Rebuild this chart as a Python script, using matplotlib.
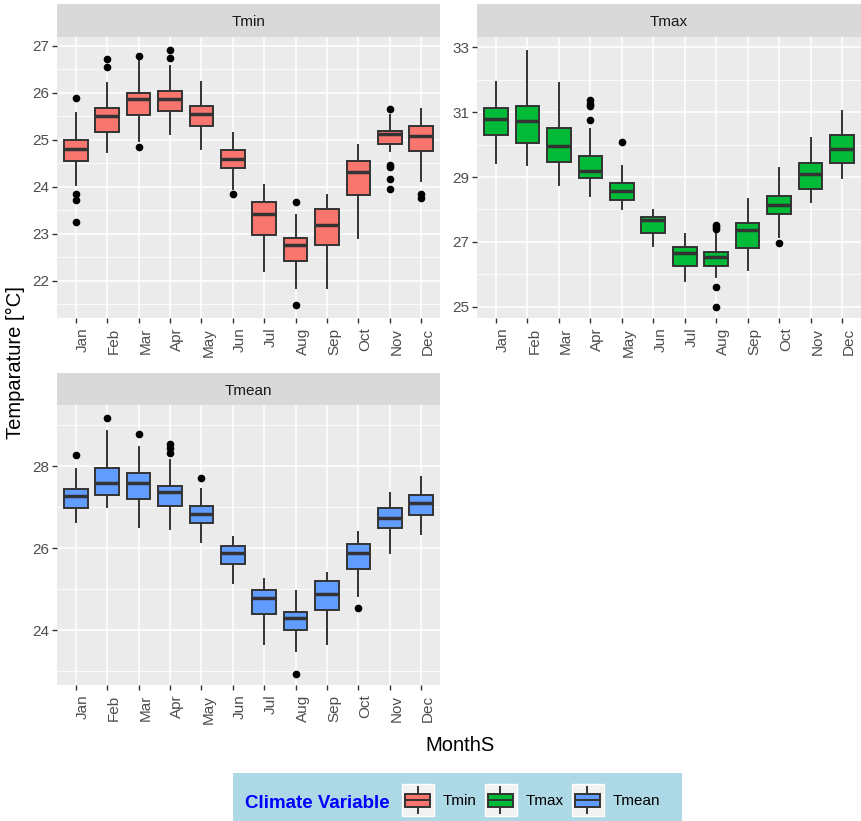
import matplotlib
matplotlib.use('Agg')
import matplotlib.pyplot as plt
import matplotlib.transforms as mtransforms
from matplotlib.patches import Rectangle, Patch
from matplotlib.lines import Line2D
from matplotlib.legend_handler import HandlerBase

plt.rcParams['font.family'] = ['Liberation Sans', 'DejaVu Sans']

months = ['Jan', 'Feb', 'Mar', 'Apr', 'May', 'Jun',
          'Jul', 'Aug', 'Sep', 'Oct', 'Nov', 'Dec']

# box summaries per month: lower whisker, q1, median, q3, upper whisker, outliers
tmin_lo = [24.05, 24.74, 24.97, 25.13, 24.81, 23.96, 22.21, 21.84, 21.84, 22.92, 24.76, 24.12]
tmin_q1 = [24.55, 25.17, 25.52, 25.61, 25.30, 24.40, 22.97, 22.42, 22.76, 23.82, 24.91, 24.76]
tmin_med = [24.81, 25.51, 25.87, 25.88, 25.55, 24.60, 23.43, 22.76, 23.19, 24.32, 25.13, 25.08]
tmin_q3 = [24.99, 25.68, 26.00, 26.04, 25.73, 24.79, 23.68, 22.91, 23.52, 24.56, 25.18, 25.29]
tmin_hi = [25.57, 26.21, 26.67, 26.58, 26.24, 25.15, 24.03, 23.40, 23.82, 24.89, 25.54, 25.66]
tmin_out = [[25.90, 23.85, 23.72, 23.26], [26.72, 26.55], [26.79, 24.85], [26.92, 26.74],
            [], [23.84], [], [23.68, 21.48], [], [], [25.66, 24.46, 24.42, 24.16, 23.96],
            [23.84, 23.77]]

tmax_lo = [29.42, 29.37, 28.75, 28.41, 28.01, 26.87, 25.79, 25.93, 26.15, 27.14, 28.24, 28.96]
tmax_q1 = [30.28, 30.04, 29.47, 28.98, 28.29, 27.28, 26.26, 26.26, 26.83, 27.85, 28.63, 29.42]
tmax_med = [30.79, 30.71, 29.94, 29.20, 28.58, 27.67, 26.66, 26.54, 27.36, 28.14, 29.08, 29.85]
tmax_q3 = [31.12, 31.19, 30.50, 29.66, 28.83, 27.76, 26.85, 26.69, 27.59, 28.42, 29.44, 30.30]
tmax_hi = [31.94, 32.89, 31.89, 30.47, 29.35, 27.98, 27.26, 27.24, 28.32, 29.29, 30.19, 31.04]
tmax_out = [[], [], [], [31.38, 31.25, 31.19, 30.76], [30.09], [], [],
            [27.52, 27.45, 27.39, 25.62, 25.00], [], [26.97], [], []]

tmean_lo = [26.64, 27.01, 26.52, 26.46, 26.15, 25.14, 23.66, 23.50, 23.66, 24.83, 25.89, 26.34]
tmean_q1 = [26.97, 27.29, 27.20, 27.02, 26.62, 25.60, 24.39, 24.00, 24.49, 25.50, 26.48, 26.80]
tmean_med = [27.28, 27.59, 27.59, 27.37, 26.83, 25.87, 24.79, 24.30, 24.87, 25.89, 26.74, 27.09]
tmean_q3 = [27.43, 27.96, 27.82, 27.51, 27.02, 26.05, 24.98, 24.43, 25.20, 26.09, 26.97, 27.29]
tmean_hi = [27.93, 28.86, 28.46, 28.15, 27.43, 26.28, 25.24, 24.95, 25.38, 26.40, 27.35, 27.74]
tmean_out = [[28.28], [29.18], [28.78], [28.55, 28.43, 28.31], [27.72], [], [],
             [22.94], [], [24.54], [], []]

variables = ['Tmin', 'Tmax', 'Tmean']
fills = ['#F8766D', '#00BA38', '#619CFF']
edge = '#333333'


def box_stats(lo, q1, med, q3, hi, out):
    return [dict(whislo=a, q1=b, med=c, q3=d, whishi=e, fliers=f)
            for a, b, c, d, e, f in zip(lo, q1, med, q3, hi, out)]


W, H = 861, 821
fig = plt.figure(figsize=(W / 100, H / 100), dpi=100)
# nudge rotated month labels a couple of pixels right of their ticks
nudge = mtransforms.ScaledTranslation(2.5 / 100, 0, fig.dpi_scale_trans)


def panel(x0, y0, x1, y1, strip_top, title, stats, fill, major, minor, ylim):
    ax = fig.add_axes([x0 / W, 1 - y1 / H, (x1 - x0) / W, (y1 - y0) / H])
    ax.set_facecolor('#EBEBEB')
    ax.bxp(stats, positions=range(1, 13), widths=0.75, patch_artist=True,
           showcaps=False,
           boxprops=dict(facecolor=fill, edgecolor=edge, linewidth=1.4),
           whiskerprops=dict(color=edge, linewidth=1.4),
           medianprops=dict(color=edge, linewidth=2.5),
           flierprops=dict(marker='o', markerfacecolor='black',
                           markeredgecolor='black', markersize=4.5))
    ax.set_xlim(0.4, 12.6)
    ax.set_ylim(*ylim)
    ax.set_xticks(range(1, 13))
    ax.set_xticklabels(months, rotation=90, ha='left', va='top')
    for lab in ax.get_xticklabels():
        lab.set_transform(lab.get_transform() + nudge)
    ax.set_yticks(major)
    ax.set_yticks(minor, minor=True)
    ax.grid(which='major', color='white', linewidth=1.1)
    ax.grid(which='minor', axis='y', color='white', linewidth=0.55)
    ax.set_axisbelow(True)
    for s in ax.spines.values():
        s.set_visible(False)
    ax.tick_params(which='major', length=3.6, width=1, color='#333333',
                   labelsize=11, labelcolor='#4D4D4D')
    ax.tick_params(axis='x', pad=3.4)
    ax.tick_params(axis='y', pad=2)
    ax.tick_params(which='minor', length=0)

    st = fig.add_axes([x0 / W, 1 - y0 / H, (x1 - x0) / W, (y0 - strip_top) / H])
    st.set_facecolor('#D9D9D9')
    st.set_xticks([])
    st.set_yticks([])
    for s in st.spines.values():
        s.set_visible(False)
    st.text(0.5, 0.45, title, ha='center', va='center', fontsize=11,
            color='#1A1A1A', transform=st.transAxes)
    return ax


panel(57, 37, 440, 318, 4, 'Tmin',
      box_stats(tmin_lo, tmin_q1, tmin_med, tmin_q3, tmin_hi, tmin_out),
      fills[0], [22, 23, 24, 25, 26, 27],
      [21.5, 22.5, 23.5, 24.5, 25.5, 26.5], (21.21, 27.19))
panel(477, 37, 861, 318, 4, 'Tmax',
      box_stats(tmax_lo, tmax_q1, tmax_med, tmax_q3, tmax_hi, tmax_out),
      fills[1], [25, 27, 29, 31, 33], [26, 28, 30, 32], (24.66, 33.31))
panel(57, 405, 440, 685, 373, 'Tmean',
      box_stats(tmean_lo, tmean_q1, tmean_med, tmean_q3, tmean_hi, tmean_out),
      fills[2], [24, 26, 28], [23, 25, 27, 29], (22.66, 29.49))

fig.text(15 / W, 1 - 363 / H, 'Temparature [°C]', rotation=90, ha='center',
         va='center', fontsize=14.5, color='black')
fig.text(460 / W, 1 - 745 / H, 'MonthS', ha='center', va='center',
         fontsize=14.5, color='black')


class BoxKey(HandlerBase):
    def create_artists(self, legend, orig_handle, xdescent, ydescent,
                       width, height, fontsize, trans):
        x0, y0 = -xdescent, -ydescent
        bg = Rectangle((x0, y0), width, height, facecolor='#F2F2F2',
                       edgecolor='white', linewidth=1, transform=trans)
        box = Rectangle((x0 + 0.1 * width, y0 + 0.27 * height), 0.78 * width,
                        0.43 * height, facecolor=orig_handle.get_facecolor(),
                        edgecolor=edge, linewidth=1.4, transform=trans)
        med = Line2D([x0 + 0.1 * width, x0 + 0.88 * width],
                     [y0 + 0.5 * height] * 2, color=edge, linewidth=1.4,
                     transform=trans)
        cx = x0 + 0.49 * width
        up = Line2D([cx, cx], [y0 + 0.7 * height, y0 + 0.9 * height],
                    color=edge, linewidth=1.4, transform=trans)
        dn = Line2D([cx, cx], [y0 + 0.08 * height, y0 + 0.27 * height],
                    color=edge, linewidth=1.4, transform=trans)
        return [bg, box, med, up, dn]


fig.patches.append(Rectangle((233 / W, 0), 449 / W, 48 / H,
                             facecolor='#ADD8E6', edgecolor='none',
                             transform=fig.transFigure, zorder=0))
fig.text(245 / W, 1 - 803 / H, 'Climate Variable', color='#0000FF',
         fontweight='bold', fontsize=13.5, ha='left', va='center')
handles = [Patch(facecolor=c) for c in fills]
fig.legend(handles, variables, handler_map={Patch: BoxKey()},
           loc='center left', bbox_to_anchor=(402 / W, 1 - 800 / H),
           ncol=3, frameon=False, fontsize=11, handlelength=2.1,
           handleheight=2.84, handletextpad=0.55, columnspacing=0.55,
           borderpad=0, borderaxespad=0)

fig.savefig('out.png', dpi=100)
